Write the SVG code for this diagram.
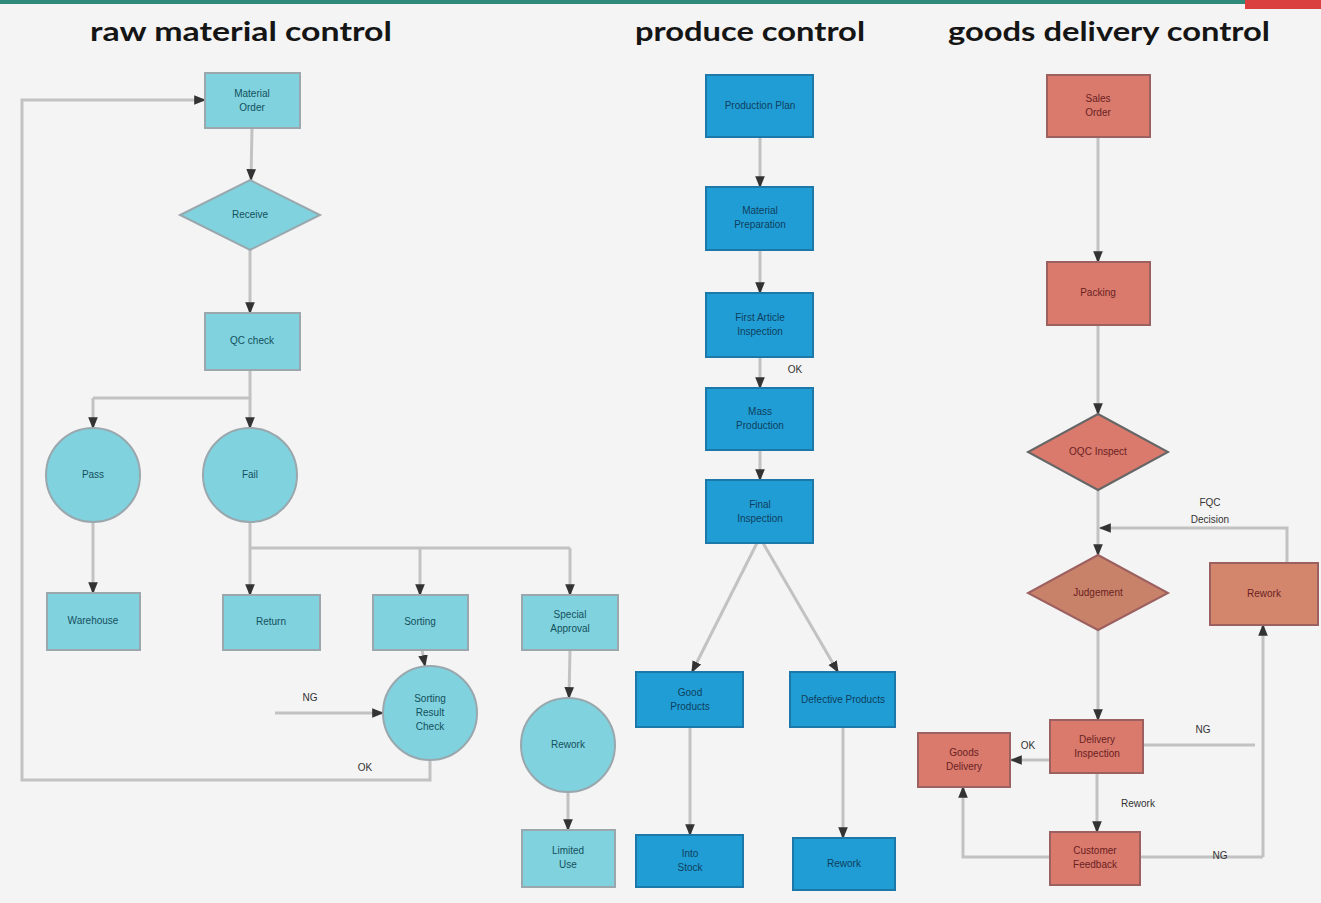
<svg xmlns="http://www.w3.org/2000/svg" width="1321" height="903" viewBox="0 0 1321 903">
<defs>
<marker id="ah" viewBox="0 0 10 10" refX="9" refY="5" markerWidth="4" markerHeight="4" orient="auto-start-reverse">
<path d="M0,1 L10,5 L0,9 z" fill="#333"/>
</marker>
<style>
.title{font-family:"Lato","Liberation Sans","DejaVu Sans",sans-serif;font-size:27px;font-weight:bold;fill:#151515;}
.t{font-family:"Liberation Sans","DejaVu Sans",sans-serif;font-size:10px;text-anchor:middle;dominant-baseline:middle;}
.tc{fill:#15505c;}
.tb{fill:#0d3f5c;}
.tr{fill:#6a1f1f;}
.lbl{font-family:"Liberation Sans","DejaVu Sans",sans-serif;font-size:10px;fill:#333;text-anchor:middle;dominant-baseline:middle;}
.cy{fill:#7fd2de;stroke:#9aa7ad;stroke-width:2;}
.bl{fill:#219dd6;stroke:#1b78a8;stroke-width:2;}
.rd{fill:#d97a6d;stroke:#9c6060;stroke-width:2;}
.c{fill:none;stroke:#c2c2c2;stroke-width:3;}
.ca{fill:none;stroke:#c2c2c2;stroke-width:3;marker-end:url(#ah);}
</style>
</defs>
<rect x="0" y="0" width="1321" height="903" fill="#f4f4f4"/>
<rect x="0" y="0" width="1245" height="4" fill="#2f8a7a"/>
<rect x="1245" y="0" width="76" height="9" fill="#d9403f"/>

<g id="titles">
<text class="title" x="90" y="41" textLength="302" lengthAdjust="spacingAndGlyphs">raw material control</text>
<text class="title" x="635" y="41" textLength="230" lengthAdjust="spacingAndGlyphs">produce control</text>
<text class="title" x="948" y="41" textLength="322" lengthAdjust="spacingAndGlyphs">goods delivery control</text>
</g>

<g id="connectors">
<path class="ca" d="M252,128 L251,180"/>
<path class="ca" d="M250,250 L250,313"/>
<path class="c" d="M250,370 L250,398 L93,398"/>
<path class="ca" d="M93,398 L93,428"/>
<path class="ca" d="M250,398 L250,428"/>
<path class="ca" d="M93,522 L93,593"/>
<path class="ca" d="M250,522 L250,595"/>
<path class="c" d="M250,548 L570,548"/>
<path class="ca" d="M420,548 L420,595"/>
<path class="ca" d="M570,548 L570,595"/>
<path class="ca" d="M422,650 L425,666"/>
<path class="ca" d="M570,650 L569,698"/>
<path class="ca" d="M568,792 L568,830"/>
<path class="ca" d="M275,713 L383,713"/>
<path class="ca" d="M430,760 L430,780 L22,780 L22,100 L205,100"/>
<path class="ca" d="M760,137 L760,187"/>
<path class="ca" d="M760,250 L760,293"/>
<path class="ca" d="M760,357 L760,388"/>
<path class="ca" d="M760,450 L760,480"/>
<path class="ca" d="M757,543 L692,672"/>
<path class="ca" d="M763,543 L838,672"/>
<path class="ca" d="M690,727 L690,835"/>
<path class="ca" d="M843,727 L843,838"/>
<path class="ca" d="M1098,137 L1098,262"/>
<path class="ca" d="M1098,325 L1098,414"/>
<path class="ca" d="M1098,490 L1098,555"/>
<path class="ca" d="M1287,563 L1287,528 L1100,528"/>
<path class="ca" d="M1098,630 L1098,720"/>
<path class="ca" d="M1050,760 L1011,760"/>
<path class="c" d="M1143,745 L1255,745"/>
<path class="ca" d="M1263,857 L1263,625"/>
<path class="ca" d="M1097,773 L1097,832"/>
<path class="c" d="M1140,857 L1263,857"/>
<path class="ca" d="M1050,857 L963,857 L963,787"/>
<text class="lbl" x="310" y="698">NG</text>
<text class="lbl" x="365" y="768">OK</text>
<text class="lbl" x="795" y="370">OK</text>
<text class="lbl" x="1210" y="503">FQC</text>
<text class="lbl" x="1210" y="520">Decision</text>
<text class="lbl" x="1028" y="746">OK</text>
<text class="lbl" x="1203" y="730">NG</text>
<text class="lbl" x="1138" y="804">Rework</text>
<text class="lbl" x="1220" y="856">NG</text>
</g>

<g id="rm-order"><rect class="cy" x="205" y="73" width="95" height="55"/><text class="t tc" x="252" y="94">Material</text><text class="t tc" x="252" y="108">Order</text></g>
<g id="rm-receive"><polygon class="cy" points="250,180 320,215 250,250 180,215"/><text class="t tc" x="250" y="215">Receive</text></g>
<g id="rm-qc"><rect class="cy" x="205" y="313" width="95" height="57"/><text class="t tc" x="252" y="341">QC check</text></g>
<g id="rm-pass"><circle class="cy" cx="93" cy="475" r="47"/><text class="t tc" x="93" y="475">Pass</text></g>
<g id="rm-fail"><circle class="cy" cx="250" cy="475" r="47"/><text class="t tc" x="250" y="475">Fail</text></g>
<g id="rm-warehouse"><rect class="cy" x="47" y="593" width="93" height="57"/><text class="t tc" x="93" y="621">Warehouse</text></g>
<g id="rm-return"><rect class="cy" x="223" y="595" width="97" height="55"/><text class="t tc" x="271" y="622">Return</text></g>
<g id="rm-sorting"><rect class="cy" x="373" y="595" width="95" height="55"/><text class="t tc" x="420" y="622">Sorting</text></g>
<g id="rm-special"><rect class="cy" x="522" y="595" width="96" height="55"/><text class="t tc" x="570" y="615">Special</text><text class="t tc" x="570" y="629">Approval</text></g>
<g id="rm-recheck"><circle class="cy" cx="430" cy="713" r="47"/><text class="t tc" x="430" y="699">Sorting</text><text class="t tc" x="430" y="713">Result</text><text class="t tc" x="430" y="727">Check</text></g>
<g id="rm-rework"><circle class="cy" cx="568" cy="745" r="47"/><text class="t tc" x="568" y="745">Rework</text></g>
<g id="rm-limited"><rect class="cy" x="522" y="830" width="93" height="57"/><text class="t tc" x="568" y="851">Limited</text><text class="t tc" x="568" y="865">Use</text></g>

<g id="pc-plan"><rect class="bl" x="706" y="75" width="107" height="62"/><text class="t tb" x="760" y="106">Production Plan</text></g>
<g id="pc-material"><rect class="bl" x="706" y="187" width="107" height="63"/><text class="t tb" x="760" y="211">Material</text><text class="t tb" x="760" y="225">Preparation</text></g>
<g id="pc-first"><rect class="bl" x="706" y="293" width="107" height="64"/><text class="t tb" x="760" y="318">First Article</text><text class="t tb" x="760" y="332">Inspection</text></g>
<g id="pc-mass"><rect class="bl" x="706" y="388" width="107" height="62"/><text class="t tb" x="760" y="412">Mass</text><text class="t tb" x="760" y="426">Production</text></g>
<g id="pc-final"><rect class="bl" x="706" y="480" width="107" height="63"/><text class="t tb" x="760" y="505">Final</text><text class="t tb" x="760" y="519">Inspection</text></g>
<g id="pc-good"><rect class="bl" x="636" y="672" width="107" height="55"/><text class="t tb" x="690" y="693">Good</text><text class="t tb" x="690" y="707">Products</text></g>
<g id="pc-defect"><rect class="bl" x="790" y="672" width="105" height="55"/><text class="t tb" x="843" y="700">Defective Products</text></g>
<g id="pc-stock"><rect class="bl" x="636" y="835" width="107" height="52"/><text class="t tb" x="690" y="854">Into</text><text class="t tb" x="690" y="868">Stock</text></g>
<g id="pc-rework"><rect class="bl" x="793" y="838" width="102" height="52"/><text class="t tb" x="844" y="864">Rework</text></g>

<g id="gd-order"><rect class="rd" x="1047" y="75" width="103" height="62"/><text class="t tr" x="1098" y="99">Sales</text><text class="t tr" x="1098" y="113">Order</text></g>
<g id="gd-packing"><rect class="rd" x="1047" y="262" width="103" height="63"/><text class="t tr" x="1098" y="293">Packing</text></g>
<g id="gd-oqc"><polygon class="rd" points="1098,414 1168,452 1098,490 1028,452" style="stroke:#666"/><text class="t tr" x="1098" y="452">OQC Inspect</text></g>
<g id="gd-judge"><polygon class="rd" points="1098,555 1168,593 1098,630 1028,593" style="fill:#c9826a"/><text class="t tr" x="1098" y="593">Judgement</text></g>
<g id="gd-rework"><rect class="rd" x="1210" y="563" width="108" height="62" style="fill:#d4866d"/><text class="t tr" x="1264" y="594">Rework</text></g>
<g id="gd-inspect"><rect class="rd" x="1050" y="720" width="93" height="53"/><text class="t tr" x="1097" y="740">Delivery</text><text class="t tr" x="1097" y="754">Inspection</text></g>
<g id="gd-delivery"><rect class="rd" x="918" y="733" width="92" height="54"/><text class="t tr" x="964" y="753">Goods</text><text class="t tr" x="964" y="767">Delivery</text></g>
<g id="gd-feedback"><rect class="rd" x="1050" y="832" width="90" height="53"/><text class="t tr" x="1095" y="851">Customer</text><text class="t tr" x="1095" y="865">Feedback</text></g>
</svg>
